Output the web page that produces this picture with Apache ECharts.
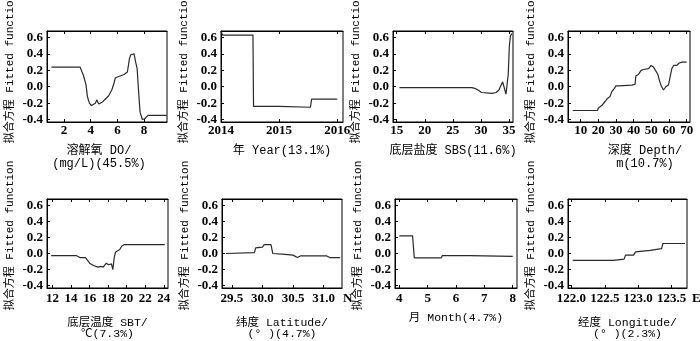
<!DOCTYPE html>
<html><head><meta charset="utf-8">
<script src="https://cdn.jsdelivr.net/npm/echarts@6/dist/echarts.min.js"></script>
<style>html,body{margin:0;padding:0;background:#fff}#c{width:700px;height:341px}</style>
</head><body><div id="c"></div>
<script>
// ---- data ----
const yTicks = [-0.4, -0.2, 0.0, 0.2, 0.4, 0.6];

const doX = [1.05, 3.2, 3.3, 3.45, 3.55, 3.65, 3.75, 3.9, 4.05, 4.2, 4.35, 4.45, 4.6, 4.85, 5.1, 5.35, 5.6, 5.72, 5.85, 5.97, 6.5, 6.75, 6.85, 6.9, 7.0, 7.15, 7.25, 7.37, 7.48, 7.57, 7.7, 7.87, 8.05, 8.3, 9.7];
const doY = [0.24, 0.24, 0.2, 0.14, 0.12, 0.02, -0.12, -0.2, -0.23, -0.23, -0.2, -0.16, -0.21, -0.19, -0.15, -0.11, -0.03, 0.03, 0.11, 0.13, 0.15, 0.18, 0.19, 0.34, 0.39, 0.41, 0.4, 0.3, 0.22, -0.01, -0.31, -0.4, -0.39, -0.35, -0.35];
const doTicks = [2, 4, 6, 8];

const yearX = [2014.0, 2014.03, 2014.55, 2014.56, 2015.0, 2015.0, 2015.54, 2015.56, 2016.0];
const yearY = [0.67, 0.63, 0.63, -0.24, -0.24, -0.25, -0.25, -0.15, -0.15];
const yearTicks = [2014, 2015, 2016];

const sbsX = [15.5, 28.4, 28.9, 29.5, 30.1, 32.0, 32.7, 33.2, 33.85, 34.1, 34.45, 34.85, 35.05, 35.25, 35.5];
const sbsY = [-0.01, -0.01, -0.02, -0.04, -0.07, -0.08, -0.07, -0.04, 0.06, 0.0, -0.09, 0.15, 0.5, 0.62, 0.65];
const sbsTicks = [15, 20, 25, 30, 35];

const depthX = [5.5, 19.5, 20.0, 21.9, 22.8, 23.8, 25.3, 26.6, 27.6, 29.1, 29.9, 31.4, 38.9, 40.8, 41.2, 42.7, 44.2, 45.5, 48.4, 49.9, 51.2, 52.6, 53.7, 54.4, 55.6, 56.9, 58.2, 59.7, 60.7, 61.6, 62.6, 64.5, 65.8, 67.3, 70.0];
const depthY = [-0.29, -0.29, -0.26, -0.23, -0.22, -0.18, -0.14, -0.12, -0.06, -0.02, 0.01, 0.01, 0.02, 0.03, 0.13, 0.15, 0.2, 0.21, 0.22, 0.26, 0.24, 0.19, 0.15, 0.09, 0.01, -0.04, 0.0, 0.02, 0.03, 0.22, 0.26, 0.26, 0.29, 0.3, 0.3];
const depthTicks = [10, 20, 30, 40, 50, 60, 70];

const sbtX = [11.85, 14.55, 14.95, 15.55, 15.75, 16.0, 16.4, 16.9, 17.2, 17.45, 17.8, 18.05, 18.35, 18.5, 18.65, 18.8, 19.0, 19.25, 19.45, 19.7, 24.1];
const sbtY = [-0.025, -0.025, -0.05, -0.05, -0.07, -0.12, -0.15, -0.17, -0.16, -0.17, -0.12, -0.14, -0.13, -0.2, -0.05, 0.02, 0.01, 0.05, 0.09, 0.11, 0.11];
const sbtTicks = [12, 14, 16, 18, 20, 22, 24];

const latX = [29.4, 29.87, 29.89, 30.0, 30.03, 30.14, 30.17, 30.2, 30.37, 30.5, 30.57, 30.62, 31.05, 31.1, 31.27];
const latY = [0.0, 0.01, 0.07, 0.08, 0.11, 0.11, 0.0, -0.02, -0.01, -0.02, -0.05, -0.03, -0.03, -0.05, -0.05];
const latTicks = [29.5, 30.0, 30.5, 31.0];

const monthX = [4.0, 4.47, 4.53, 5.48, 5.52, 6.5, 6.5, 8.0];
const monthY = [0.22, 0.22, -0.055, -0.055, -0.025, -0.025, -0.035, -0.035];
const monthTicks = [4, 5, 6, 7, 8];

const lonX = [122.02, 122.63, 122.65, 122.79, 122.81, 122.93, 122.96, 123.18, 123.2, 123.35, 123.37, 123.7];
const lonY = [-0.085, -0.085, -0.07, -0.07, -0.02, -0.02, 0.02, 0.04, 0.06, 0.06, 0.125, 0.125];
const lonTicks = [122.0, 122.5, 123.0, 123.5];

const names = [
  '溶解氧 DO/\n(mg/L)(45.5%)', '年 Year(13.1%)', '底层盐度 SBS(11.6%)', '深度 Depth/\nm(10.7%)',
  '底层温度 SBT/\n℃(7.3%)', '纬度 Latitude/\n(° )(4.7%)', '月 Month(4.7%)', '经度 Longitude/\n(° )(2.3%)'
];
const yName = '拟合方程 Fitted function';

// ---- layout / style (not data) ----
const panels = [
  {x: doX, y: doY, t: doTicks, min: 0.72, max: 9.72, dec: 0, g: [47, 31, 120, 91], gap: 22, lh: 13.5, pad: [0, 16, 0, 0], lm: 2},
  {x: yearX, y: yearY, t: yearTicks, min: 2014, max: 2016.1, dec: 0, g: [221, 31, 122, 91], gap: 22, lh: 13.5, pad: 0, lm: 2},
  {x: sbsX, y: sbsY, t: sbsTicks, min: 14.35, max: 35.7, dec: 0, g: [393, 31, 120, 91], gap: 22, lh: 13.5, pad: 0, lm: 2},
  {x: depthX, y: depthY, t: depthTicks, min: 2.8, max: 71.9, dec: 0, g: [568, 31, 122, 91], gap: 22, lh: 13.5, pad: [0, 0, 0, 32], lm: 2},
  {x: sbtX, y: sbtY, t: sbtTicks, min: 11.4, max: 24.45, dec: 0, g: [47, 199, 121, 89], gap: 30, lh: 10.5, pad: 0, lm: 4},
  {x: latX, y: latY, t: latTicks, min: 29.34, max: 31.3, dec: 1, g: [222, 199, 120, 89], gap: 30, lh: 10.5, pad: 0, lm: 4},
  {x: monthX, y: monthY, t: monthTicks, min: 3.85, max: 8.15, dec: 0, g: [395, 199, 122, 89], gap: 25, lh: 10.5, pad: 0, lm: 4},
  {x: lonX, y: lonY, t: lonTicks, min: 121.95, max: 123.73, dec: 1, g: [568, 199, 119, 89], gap: 30, lh: 10.5, pad: 0, lm: 4}
];

const tickFont = {fontFamily: 'Liberation Serif', fontWeight: 'bold', fontSize: 13, color: '#000'};
const nameFamily = '"Liberation Mono", "Noto Sans CJK SC"';

const grid = [], xAxis = [], yAxis = [], series = [];
panels.forEach((p, i) => {
  grid.push({left: p.g[0], top: p.g[1], width: p.g[2], height: p.g[3], show: true, borderColor: '#000', borderWidth: 1,
    backgroundColor: 'transparent', containLabel: false, outerBoundsMode: 'none'});
  xAxis.push({
    type: 'value', gridIndex: i, min: p.min, max: p.max, position: 'bottom',
    axisLine: {onZero: false, lineStyle: {color: '#000', width: 1}},
    axisTick: {inside: true, length: 3, customValues: p.t, lineStyle: {color: '#000'}},
    axisLabel: Object.assign({customValues: p.t, margin: p.lm, formatter: v => v.toFixed(p.dec)}, tickFont),
    splitLine: {show: false},
    name: names[i], nameLocation: 'middle', nameGap: p.gap,
    nameTextStyle: {lineHeight: p.lh, fontSize: i >= 4 ? 11.5 : 12, padding: p.pad, verticalAlign: 'top', fontFamily: nameFamily, color: '#000'}
  });
  xAxis.push({
    type: 'value', gridIndex: i, min: p.min, max: p.max, position: 'top',
    axisLine: {onZero: false, lineStyle: {color: '#000', width: 1}},
    axisTick: {inside: true, length: 3, customValues: p.t, lineStyle: {color: '#000'}},
    axisLabel: {show: false}, splitLine: {show: false}
  });
  yAxis.push({
    type: 'value', gridIndex: i, min: -0.43, max: 0.68,
    axisLine: {onZero: false, lineStyle: {color: '#000', width: 1}},
    axisTick: {inside: true, length: 3, customValues: yTicks, lineStyle: {color: '#000'}},
    axisLabel: Object.assign({customValues: yTicks, margin: 4, formatter: v => v.toFixed(1)}, tickFont),
    splitLine: {show: false},
    name: yName, nameLocation: 'middle', nameGap: 31,
    nameTextStyle: {padding: [0, 0, 0, 16], fontSize: 11, fontFamily: nameFamily, color: '#000'}
  });
  series.push({
    type: 'line', xAxisIndex: i * 2, yAxisIndex: i, showSymbol: false, symbol: 'none',
    lineStyle: {color: '#2a2a2a', width: 1.2}, animation: false,
    data: p.x.map((v, k) => [v, p.y[k]])
  });
});

const chart = echarts.init(document.getElementById('c'), null, {renderer: 'canvas'});
chart.setOption({
  animation: false, backgroundColor: '#fff',
  grid, xAxis, yAxis, series,
  graphic: [
    {type: 'text', left: 343, top: 292, style: Object.assign({text: 'N'}, tickFont)},
    {type: 'text', left: 692, top: 292, style: Object.assign({text: 'E'}, tickFont)}
  ]
});
</script></body></html>
